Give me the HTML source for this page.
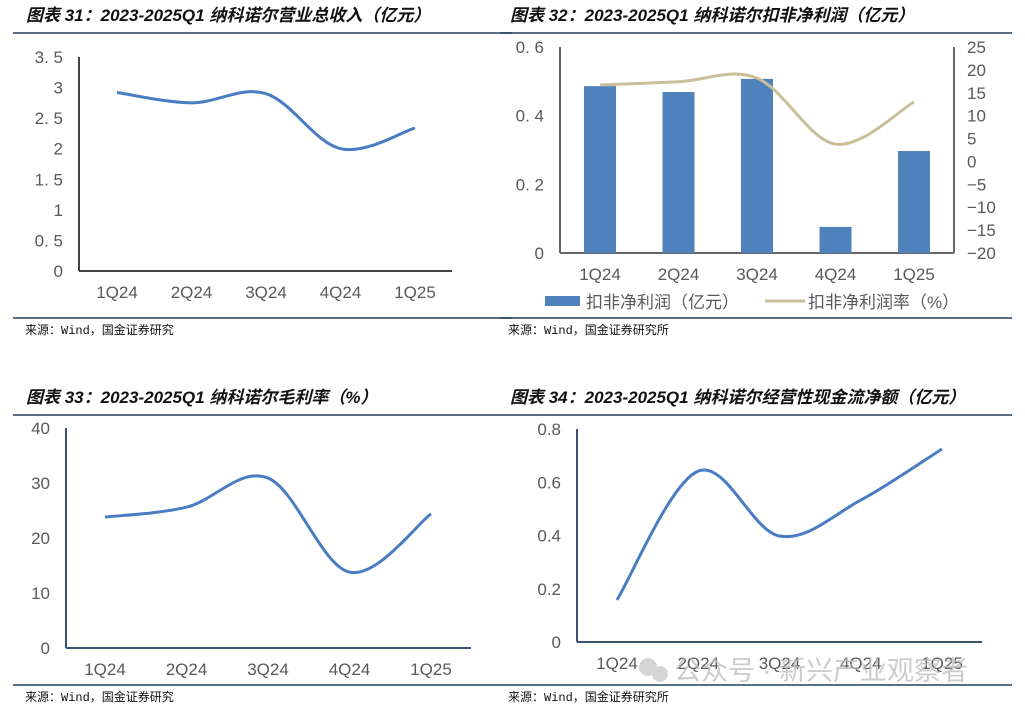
<!DOCTYPE html>
<html><head><meta charset="utf-8">
<style>
body{margin:0;background:#fff;width:1025px;height:712px;overflow:hidden}
svg{display:block}
text{font-family:"Liberation Sans","Noto Sans CJK SC",sans-serif}
.t{font-family:"Liberation Sans","Noto Sans CJK SC",sans-serif;font-weight:bold;font-style:italic;font-size:17px;fill:#111}
.tick{font-size:17px;fill:#595959}
.src{font-size:12px;fill:#111;font-family:"Liberation Mono","Noto Sans CJK SC",monospace}
</style></head><body>
<svg id="s" width="1025" height="712" xmlns="http://www.w3.org/2000/svg">
<g>
<text class="t" x="26" y="21">图表 31：2023-2025Q1 纳科诺尔营业总收入（亿元）</text>
<line x1="13" y1="33" x2="512" y2="33" stroke="#1f3f5f" stroke-width="1.5"/>
<line x1="13" y1="318" x2="512" y2="318" stroke="#1f3f5f" stroke-width="1.5"/>
<text class="src" x="25" y="334">来源：Wind，国金证券研究</text>
</g>
<g>
<text class="t" x="510" y="21">图表 32：2023-2025Q1 纳科诺尔扣非净利润（亿元）</text>
<line x1="500" y1="33" x2="1012" y2="33" stroke="#1f3f5f" stroke-width="1.5"/>
<line x1="500" y1="318" x2="1012" y2="318" stroke="#1f3f5f" stroke-width="1.5"/>
<text class="src" x="508" y="334">来源：Wind，国金证券研究所</text>
</g>
<g>
<text class="t" x="26" y="403">图表 33：2023-2025Q1 纳科诺尔毛利率（%）</text>
<line x1="13" y1="415" x2="500" y2="415" stroke="#1f3f5f" stroke-width="1.5"/>
<line x1="13" y1="685" x2="500" y2="685" stroke="#1f3f5f" stroke-width="1.5"/>
<text class="src" x="25" y="701">来源：Wind，国金证券研究</text>
</g>
<g>
<text class="t" x="510" y="403">图表 34：2023-2025Q1 纳科诺尔经营性现金流净额（亿元）</text>
<line x1="500" y1="415" x2="1012" y2="415" stroke="#1f3f5f" stroke-width="1.5"/>
<line x1="500" y1="685" x2="1012" y2="685" stroke="#1f3f5f" stroke-width="1.5"/>
<text class="src" x="508" y="701">来源：Wind，国金证券研究所</text>
</g>
<g id="layer"></g>
<g opacity="0.75">
<circle cx="648" cy="667" r="9" fill="#c8c8c8"/><circle cx="660" cy="674" r="8" fill="#c8c8c8"/>
<text x="674" y="680" font-size="27" fill="#bbb">公众号 · 新兴产业观察者</text>
</g>
</svg>
<script>
const categories = ["1Q24","2Q24","3Q24","4Q24","1Q25"];
const revenue = [2.92, 2.75, 2.9, 2.0, 2.34];
const revTicks = ["0","0.5","1","1.5","2","2.5","3","3.5"];
const profit = [0.486, 0.469, 0.507, 0.076, 0.297];
const profitTicks = ["0","0.2","0.4","0.6"];
const margin = [16.7, 17.4, 18.2, 3.8, 13.0];
const marginTicks = ["-20","-15","-10","-5","0","5","10","15","20","25"];
const gross = [23.8, 25.6, 30.9, 13.8, 24.4];
const grossTicks = ["0","10","20","30","40"];
const cashflow = [0.158, 0.642, 0.398, 0.533, 0.725];
const cashTicks = ["0","0.2","0.4","0.6","0.8"];

const NS="http://www.w3.org/2000/svg";
const layer=document.getElementById('layer');
function mk(tag,attrs,parent){const e=document.createElementNS(NS,tag);for(const k in attrs)e.setAttribute(k,attrs[k]);(parent||layer).appendChild(e);return e;}
function smooth(pts){let d=`M${pts[0][0]},${pts[0][1]}`;for(let i=0;i<pts.length-1;i++){const p0=pts[i-1]||pts[i],p1=pts[i],p2=pts[i+1],p3=pts[i+2]||p2;const t=0.17;const c1=[p1[0]+(p2[0]-p0[0])*t,p1[1]+(p2[1]-p0[1])*t];const c2=[p2[0]-(p3[0]-p1[0])*t,p2[1]-(p3[1]-p1[1])*t];d+=` C${c1[0]},${c1[1]} ${c2[0]},${c2[1]} ${p2[0]},${p2[1]}`;}return d;}

function chart(cfg){
  const g=mk('g',{});
  
  
  const y=v=>cfg.y0-(v-cfg.min)/(cfg.max-cfg.min)*(cfg.y0-cfg.y1);
  const x=i=>cfg.xs[0]+i*(cfg.xs[1]-cfg.xs[0])/(categories.length-1);
  const ya=mk('line',{x1:cfg.ax,y1:cfg.y1,x2:cfg.ax,y2:cfg.y0,stroke:cfg.axc,'stroke-width':2},g);
  
  const xa=mk('line',{x1:cfg.ax,y1:cfg.y0,x2:cfg.axEnd,y2:cfg.y0,stroke:cfg.axc,'stroke-width':2},g);
  
  cfg.ticks.forEach(t=>{const e=mk('text',{x:cfg.ax-16,y:y(parseFloat(t))+6,'text-anchor':'end',class:'tick'},g);e.textContent=cfg.fmt?cfg.fmt(t):t;
    });
  categories.forEach((c,i)=>{const e=mk('text',{x:x(i),y:cfg.y0+27,'text-anchor':'middle',class:'tick'},g);e.textContent=c;
    });
  return {g,x,y};
}

// chart 31
{const c=chart({name:'revenue-chart',ax:79,axEnd:452,y0:271,y1:57,min:0,max:3.5,xs:[117,415],ticks:revTicks,axc:'#444',fmt:t=>t.replace('.','. ')});
 const p=mk('path',{d:smooth(revenue.map((v,i)=>[c.x(i),c.y(v)])),fill:'none',stroke:'#4a7cc4','stroke-width':3},c.g);
 }

// chart 32
{const c=chart({name:'profit-chart',ax:560,axEnd:954,y0:253,y1:47,min:0,max:0.6,xs:[600,914],ticks:profitTicks,axc:'#666',fmt:t=>t.replace('.','. ')});
 const yr=v=>253-(v+20)/45*206;
 mk('line',{x1:954,y1:47,x2:954,y2:253,stroke:'#666','stroke-width':2},c.g);
 marginTicks.forEach(t=>{const e=mk('text',{x:967,y:yr(parseFloat(t))+6,class:'tick'},c.g);e.textContent=t.replace('-','−');
   });
 profit.forEach((v,i)=>{const b=mk('rect',{x:c.x(i)-16,y:c.y(v),width:32,height:253-c.y(v),fill:'#4f81bd'},c.g);
   });
 const p=mk('path',{d:smooth(margin.map((v,i)=>[c.x(i),yr(v)])),fill:'none',stroke:'#c9c09a','stroke-width':3},c.g);
 
 const lg=mk('g',{},c.g);
 mk('rect',{x:545,y:296,width:35,height:10,fill:'#4f81bd'},lg);
 let t=mk('text',{x:586,y:308,class:'tick','font-size':17},lg);t.textContent='扣非净利润（亿元）';
 mk('line',{x1:765,y1:301,x2:805,y2:301,stroke:'#c9c09a','stroke-width':3},lg);
 t=mk('text',{x:808,y:308,class:'tick','font-size':17},lg);t.textContent='扣非净利润率（%）';}

// chart 33
{const c=chart({name:'gross-margin-chart',ax:66,axEnd:471,y0:648,y1:428,min:0,max:40,xs:[105,431],ticks:grossTicks,axc:'#3b5270'});
 const p=mk('path',{d:smooth(gross.map((v,i)=>[c.x(i),c.y(v)])),fill:'none',stroke:'#4a7cc4','stroke-width':3},c.g);
 }

// chart 34
{const c=chart({name:'cashflow-chart',ax:577,axEnd:982,y0:642,y1:429,min:0,max:0.8,xs:[617,942],ticks:cashTicks,axc:'#3b5270'});
 const p=mk('path',{d:smooth(cashflow.map((v,i)=>[c.x(i),c.y(v)])),fill:'none',stroke:'#4a7cc4','stroke-width':3},c.g);
 }
</script>
</body></html>
